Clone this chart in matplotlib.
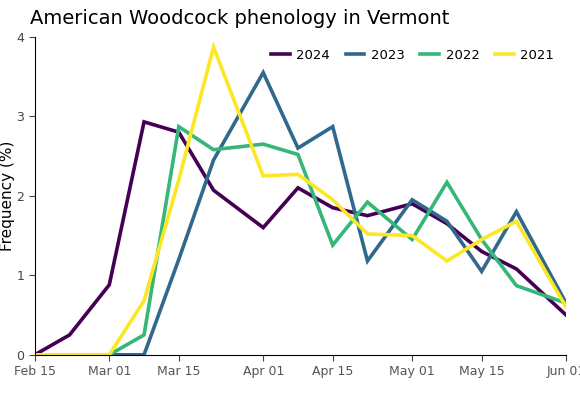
import datetime as dt

import matplotlib

matplotlib.use("Agg")

import matplotlib.dates as mdates
import matplotlib.pyplot as plt

DATES = ["2024-02-15", "2024-02-22", "2024-03-01", "2024-03-08", "2024-03-15",
         "2024-03-22", "2024-04-01", "2024-04-08", "2024-04-15", "2024-04-22",
         "2024-05-01", "2024-05-08", "2024-05-15", "2024-05-22", "2024-06-01"]
YEARS = ["2024", "2023", "2022", "2021"]
FREQ_2024 = [0, 0.25, 0.88, 2.93, 2.8, 2.07, 1.6, 2.1, 1.85, 1.75, 1.9, 1.65, 1.3, 1.08, 0.5]
FREQ_2023 = [0, 0, 0, 0, 1.2, 2.45, 3.55, 2.6, 2.87, 1.18, 1.95, 1.68, 1.05, 1.8, 0.65]
FREQ_2022 = [0, 0, 0, 0.25, 2.87, 2.58, 2.65, 2.52, 1.38, 1.92, 1.45, 2.17, 1.45, 0.87, 0.65]
FREQ_2021 = [0, 0, 0, 0.68, 2.2, 3.87, 2.25, 2.27, 1.95, 1.52, 1.5, 1.18, 1.45, 1.68, 0.6]
COLORS = ["#440154", "#31688e", "#35b779", "#fde725"]

x = [dt.datetime.strptime(d, "%Y-%m-%d") for d in DATES]
series = [FREQ_2024, FREQ_2023, FREQ_2022, FREQ_2021]

fig = plt.figure(figsize=(5.8, 4.0), dpi=100)
ax = fig.add_axes([0.06, 0.113, 0.916, 0.795])
for year, vals, color in zip(YEARS, series, COLORS):
    ax.plot(x, vals, color=color, lw=2.6, label=year, solid_joinstyle="miter")

ax.set_xlim(x[0], x[-1])
ax.set_ylim(0, 4)
ax.set_yticks([0, 1, 2, 3, 4])
ticks = [dt.datetime(2024, m, d) for m, d in [(2, 15), (3, 1), (3, 15), (4, 1), (4, 15), (5, 1), (5, 15), (6, 1)]]
ax.set_xticks(ticks)
ax.xaxis.set_major_formatter(mdates.DateFormatter("%b %d"))
ax.tick_params(labelsize=9, colors="#444444", length=4)
ax.tick_params(axis="x", labelcolor="#555555")
for s in ["top", "right"]:
    ax.spines[s].set_visible(False)
ax.set_ylabel("Frequency (%)", fontsize=11, labelpad=1)
ax.legend(loc="upper right", ncol=4, frameon=False, fontsize=9.5,
          handlelength=1.4, columnspacing=1.2, handletextpad=0.5)
fig.text(0.052, 0.955, "American Woodcock phenology in Vermont", fontsize=14, va="center")

fig.savefig("out.png")
